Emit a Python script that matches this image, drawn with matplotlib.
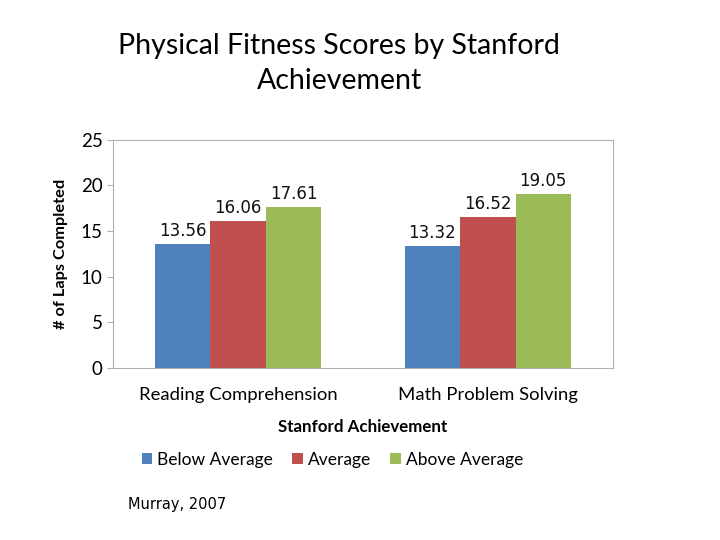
import matplotlib.pyplot as plt
import numpy as np

plt.rcParams['font.family'] = ['Lato', 'DejaVu Sans']

categories = ['Reading Comprehension', 'Math Problem Solving']
series = ['Below Average', 'Average', 'Above Average']
below = [13.56, 13.32]
average = [16.06, 16.52]
above = [17.61, 19.05]
colors = ['#4f81bd', '#c0504d', '#9bbb59']

fig = plt.figure(figsize=(7.2, 5.4), dpi=100)
ax = fig.add_axes([0.157, 0.3185, 0.694, 0.4225])

x = np.arange(len(categories))
w = 0.222
for k, (vals, name) in enumerate(zip([below, average, above], series)):
    bars = ax.bar(x + (k - 1) * w, vals, w, color=colors[k], label=name)
    for b, v in zip(bars, vals):
        ax.annotate(f'{v:.2f}', (b.get_x() + b.get_width() / 2, v),
                    xytext=(0, 3), textcoords='offset points',
                    ha='center', va='bottom', fontsize=12,
                    family='DejaVu Sans', color='#111111')

ax.set_xlim(-0.5, 1.5)
ax.set_ylim(0, 25)
ax.set_yticks([0, 5, 10, 15, 20, 25])
ax.set_xticks(x)
ax.set_xticklabels(categories, fontsize=13.3)
ax.tick_params(axis='y', labelsize=13.5, length=4, color='#aaaaaa')
ax.tick_params(axis='x', length=0, pad=14)
for s in ax.spines.values():
    s.set_color('#b0b0b0')

ax.set_ylabel('# of Laps Completed', fontsize=11.8, fontweight='bold', labelpad=9)
ax.set_xlabel('Stanford Achievement', fontsize=12.2, fontweight='bold', labelpad=11)

fig.legend(loc='center', bbox_to_anchor=(0.462, 0.148), ncol=3, frameon=False,
           fontsize=12.5, handlelength=0.6, handleheight=0.6,
           handletextpad=0.3, columnspacing=1.1)

fig.text(0.471, 0.882, 'Physical Fitness Scores by Stanford\nAchievement',
         ha='center', va='center', fontsize=20.5, linespacing=1.45)
fig.text(0.178, 0.066, 'Murray, 2007', fontsize=10.5, family='DejaVu Sans',
         va='center')

fig.savefig('out.png', dpi=100)
